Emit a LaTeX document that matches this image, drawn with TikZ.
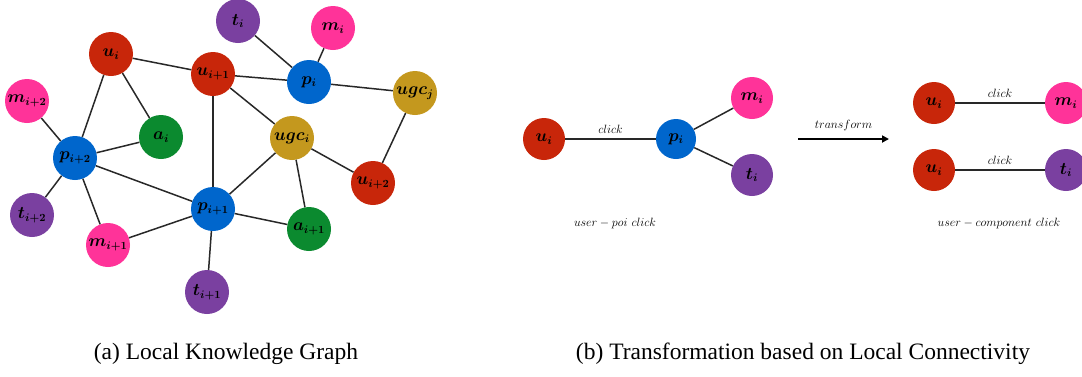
\documentclass[tikz,border=0pt]{standalone}
\usepackage{fontspec}
\newfontfamily\capfont{Liberation Serif}
\usetikzlibrary{arrows.meta}
\definecolor{cred}{HTML}{C8260A}
\definecolor{cblue}{HTML}{0066CC}
\definecolor{cgreen}{HTML}{0B8A2F}
\definecolor{cpink}{HTML}{FF3399}
\definecolor{cpurple}{HTML}{7A40A0}
\definecolor{cgold}{HTML}{C4981E}
\definecolor{edgegray}{HTML}{282828}
\tikzset{
  ent/.style={circle, minimum size=44pt, inner sep=0pt, draw=none,
              font=\boldmath\fontsize{16}{16}\selectfont},
  red/.style={fill=cred}, blue/.style={fill=cblue}, green/.style={fill=cgreen},
  pink/.style={fill=cpink}, purple/.style={fill=cpurple}, gold/.style={fill=cgold},
  link/.style={draw=edgegray, line width=1.5pt},
  tag/.style={font=\fontsize{12.5}{13}\selectfont, inner sep=1pt},
  caption/.style={font=\capfont\fontsize{23.5}{25}\selectfont, inner sep=0pt}
}
\begin{document}
\begin{tikzpicture}[x=1pt, y=-1pt]
\useasboundingbox (0,0) rectangle (1082,376);

% ---- (a) local knowledge graph ----
\node[ent, purple] (ti)   at (238,21)  {$t_i$};
\node[ent, pink]   (mi)   at (333,28)  {$m_i$};
\node[ent, red]    (ui)   at (111,54)  {$u_i$};
\node[ent, red]    (ui1)  at (213,74)  {$u_{i+1}$};
\node[ent, blue]   (pi)   at (309,82)  {$p_i$};
\node[ent, gold]   (ugcj) at (415,93)  {$ugc_j$};
\node[ent, pink]   (mi2)  at (27,101)  {$m_{i+2}$};
\node[ent, green]  (ai)   at (161,137) {$a_i$};
\node[ent, gold]   (ugci) at (292,138) {$ugc_i$};
\node[ent, blue]   (pi2)  at (75,158)  {$p_{i+2}$};
\node[ent, red]    (ui2)  at (373,183) {$u_{i+2}$};
\node[ent, blue]   (pi1)  at (213,209) {$p_{i+1}$};
\node[ent, green]  (ai1)  at (309,229) {$a_{i+1}$};
\node[ent, purple] (ti2)  at (32,215)  {$t_{i+2}$};
\node[ent, pink]   (mi1)  at (108,245) {$m_{i+1}$};
\node[ent, purple] (ti1)  at (207,292) {$t_{i+1}$};

\foreach \a/\b in {ti/pi, mi/pi, ui/ui1, ui1/pi, pi/ugcj, ui/pi2, ui/ai,
                   ui1/pi1, ui1/ugci, ugcj/ui2, mi2/pi2, pi2/ai, ugci/ui2,
                   ugci/pi1, ugci/ai1, pi2/pi1, pi2/ti2, pi2/mi1, pi1/mi1,
                   pi1/ai1, pi1/ti1}
  \draw[link] (\a) -- (\b);

% ---- (b) transformation ----
\node[ent, minimum size=42pt, red]    (bu)  at (544,139) {$u_i$};
\node[ent, minimum size=40pt, blue]   (bp)  at (676,139) {$p_i$};
\node[ent, minimum size=42pt, pink]   (bm)  at (752,98)  {$m_i$};
\node[ent, minimum size=42pt, purple] (bt)  at (752,175) {$t_i$};
\draw[link] (bu) -- node[tag, above=4pt] {$click$} (bp);
\draw[link] (bp) -- (bm);
\draw[link] (bp) -- (bt);
\node[tag] (poi) at (615,223) {$user - poi\ click$};

\coordinate (arrS) at (798,139);
\coordinate (arrE) at (889,139);
\draw[line width=2.4pt, -{Triangle[length=7pt, width=7pt]}] (arrS) -- node[tag, above=6pt] {$transform$} (arrE);

\node[ent, minimum size=42pt, red]    (cu1) at (934,103)  {$u_i$};
\node[ent, minimum size=42pt, pink]   (cm)  at (1066,103) {$m_i$};
\node[ent, minimum size=42pt, red]    (cu2) at (934,170)  {$u_i$};
\node[ent, minimum size=42pt, purple] (ct)  at (1066,170) {$t_i$};
\draw[link] (cu1) -- node[tag, above=4pt] {$click$} (cm);
\draw[link] (cu2) -- node[tag, above=4pt] {$click$} (ct);
\node[tag] (comp) at (999,223) {$user - component\ click$};

% ---- captions ----
\node[caption] (capa) at (226,354) {(a) Local Knowledge Graph};
\node[caption] (capb) at (803,354) {(b) Transformation based on Local Connectivity};
\end{tikzpicture}
\end{document}
